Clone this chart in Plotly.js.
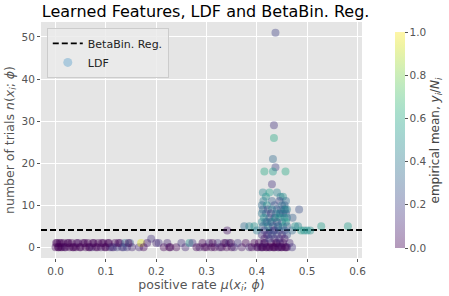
<!DOCTYPE html>
<html><head><meta charset="utf-8">
<script src="https://cdn.plot.ly/plotly-3.0.1.min.js"></script>
<style>html,body{margin:0;padding:0;background:#fff;}#chart{width:449px;height:296px;}</style>
</head><body><div id="chart"></div>
<script>
// positive rate mu(x_i; phi)
const rateX = [
 0.000,0.003,0.006,0.008,0.010,0.013,0.016,0.020,0.024,0.028,0.032,0.036,0.040,0.045,0.050,0.055,0.060,0.064,0.068,0.072,0.076,0.080,0.085,0.090,0.095,0.100,0.104,0.108,0.112,0.118,0.122,0.128,0.132,0.138,0.142,0.148,0.152,
 0.001,0.005,0.011,0.018,0.026,0.034,0.042,0.048,0.058,0.066,0.074,0.083,0.092,0.098,0.106,0.115,0.125,0.135,0.145,
 0.166,0.170,0.175,0.182,0.190,0.200,
 0.205,0.215,0.222,0.228,0.240,0.250,0.258,0.266,0.272,0.280,0.286,0.292,0.300,0.305,0.310,0.316,0.322,0.330,0.335,0.340,0.345,0.350,0.341,
 0.226,0.296,0.312,0.326,0.338,0.348,
 0.355,0.362,0.370,0.378,0.385,0.390,0.395,0.400,0.404,0.408,0.412,0.416,0.420,0.424,0.428,0.432,0.436,0.440,0.444,0.448,0.452,0.456,0.460,0.465,0.470,
 0.402,0.410,0.418,0.426,0.434,0.442,0.450,0.458,0.414,0.438,0.446,
 0.412,0.418,0.425,0.440,0.447,0.452,0.458,0.413,0.430,0.445,
 0.410,0.420,0.435,0.450,0.455,
 0.412,0.422,0.430,0.440,0.448,0.455,0.460,
 0.410,0.418,0.428,0.438,0.445,0.452,0.458,
 0.414,0.425,0.435,0.445,0.455,0.460,
 0.410,0.420,0.430,0.440,0.450,0.458,
 0.412,0.422,0.432,0.442,0.452,0.460,
 0.415,0.425,0.435,0.445,0.455,
 0.410,0.420,0.430,0.440,0.450,0.460,
 0.415,0.425,0.435,0.445,0.455,
 0.417,0.427,0.437,0.447,0.457,0.423,0.433,0.443,
 0.375,0.385,0.395,0.400,0.470,0.476,0.482,0.488,0.494,0.500,0.506,0.471,
 0.437,0.434,0.434,0.432,0.437,0.415,0.432,0.457,0.430,0.484,0.528,0.581
];
// number of trials n(x_i; phi)
const trialsN = [
 0,1,0,1,0,0,1,0,1,0,1,0,0,1,0,1,0,1,0,0,1,0,1,0,1,0,1,0,0,1,0,1,0,1,0,1,0,
 1,0,1,0,1,0,1,0,1,0,1,0,1,0,1,0,1,0,1,
 0,1,0,1,2,1,
 1,0,1,0,0,1,0,1,1,0,0,1,0,1,0,0,1,0,1,0,1,0,4,
 0,0,1,0,1,1,
 0,1,0,1,0,0,1,0,1,0,0,1,0,0,1,0,0,1,0,0,1,0,0,1,0,
 0,0,0,0,0,0,0,0,1,1,1,
 13,12,13,13,12,12,11,11,11,11,
 10,10,10,10,10,
 9,9,9,9,9,9,9,
 8,8,8,8,8,8,8,
 7,7,7,7,7,7,
 6,6,6,6,6,6,
 5,5,5,5,5,5,
 4,4,4,4,4,
 3,3,3,3,3,3,
 2,2,2,2,2,
 6,6,7,8,9,3,4,5,
 5,5,5,4,4,5,5,4,4,4,4,7,
 51,29,26,21,19,18,18,18,15,9,5,5
];
// empirical mean y_i / N_i
const empMean = [
 0,0,0,0,0,0,0,0.05,0,0,0,0,0,0.05,0,0,0,0,0,0.1,0,0,0,0.05,0,0,0,0.1,0.15,0,0.2,0.05,0.1,0.35,0.15,0.3,0.1,
 0,0,0,0,0,0,0,0,0,0,0,0,0,0,0,0.1,0,0.2,0,
 0.1,0.95,0,0.05,0.15,0.1,
 0.15,0,0.1,0,0,0.15,0.1,0.5,0.15,0,0.05,0,0,0.1,0,0,0.15,0,0.05,0,0.2,0,0.05,
 0,0,0,0.05,0,0,
 0.1,0.15,0.05,0,0.1,0,0,0.05,0,0.1,0,0,0,0.05,0,0,0,0,0.1,0,0,0,0.05,0.1,0.15,
 0,0,0,0,0,0,0,0,0.05,0,0.05,
 0.45,0.5,0.55,0.45,0.4,0.5,0.35,0.4,0.3,0.2,
 0.35,0.5,0.25,0.4,0.3,
 0.3,0.2,0.45,0.3,0.25,0.35,0.4,
 0.4,0.3,0.15,0.35,0.45,0.3,0.25,
 0.5,0.3,0.2,0.55,0.5,0.45,
 0.45,0.25,0.5,0.15,0.35,0.55,
 0.3,0.45,0.2,0.4,0.5,0.3,
 0.2,0.35,0.1,0.3,0.25,
 0.15,0.1,0.3,0.2,0.1,0.25,
 0.05,0.2,0.1,0.15,0.05,
 0.4,0.3,0.5,0.35,0.45,0.15,0.2,0.3,
 0.35,0.45,0.5,0.4,0.35,0.5,0.45,0.55,0.5,0.5,0.5,0.3,
 0.2,0.15,0.6,0.35,0.2,0.6,0.55,0.6,0.15,0.25,0.55,0.55
];
const betaBinLevel = 4.1;
const xRange = [-0.029, 0.609];
const yRange = [-2.55, 53.55];
const colorbarTicks = [0, 0.2, 0.4, 0.6, 0.8, 1.0];
const colorbarTickText = ['0.0','0.2','0.4','0.6','0.8','1.0'];

const viridisHex = ['#440154','#48186a','#472d7b','#424086','#3b528b','#33638d','#2c728e','#26828e','#21918c','#1fa088','#28ae80','#3fbc73','#5ec962','#84d44b','#addc30','#d8e219','#fde725'];
const alpha = 0.4;
const colorscale = viridisHex.map((h,i)=>{
  const r=parseInt(h.slice(1,3),16), g=parseInt(h.slice(3,5),16), b=parseInt(h.slice(5,7),16);
  return [i/(viridisHex.length-1), `rgba(${r},${g},${b},${alpha})`];
});

const font = 'DejaVu Sans, sans-serif';
const traces = [
 {type:'scatter', mode:'lines', x:xRange, y:[betaBinLevel, betaBinLevel], name:'BetaBin. Reg.',
  line:{color:'#000', width:1.8, dash:'6px,3px'}, hoverinfo:'skip'},
 {type:'scatter', mode:'markers', x:[null], y:[null], name:'LDF',
  marker:{size:9, color:'rgba(120,175,210,0.55)'}},
 {type:'scatter', mode:'markers', x:rateX, y:trialsN, showlegend:false,
  marker:{size:8, color:empMean, cmin:0, cmax:1, colorscale:colorscale, line:{width:0},
   colorbar:{x:1.0706, xanchor:'left', xref:'paper', y:0.5, yanchor:'middle', len:1, lenmode:'fraction',
     thickness:10, outlinewidth:0, ticks:'outside', ticklen:3, tickcolor:'#555', tickwidth:1,
     tickvals:colorbarTicks, ticktext:colorbarTickText,
     tickfont:{family:font, size:10.5, color:'#555'}}}}
];
const layout = {
 width:449, height:296,
 margin:{l:41, r:82, t:22, b:38, pad:0},
 paper_bgcolor:'#fff', plot_bgcolor:'#E5E5E5',
 font:{family:font, color:'#555'},
 title:{text:'Learned Features, LDF and BetaBin. Reg.', x:0.458, xanchor:'center', y:0.962, yanchor:'middle', xref:'container', yref:'container',
   font:{family:font, size:16, color:'#000'}},
 xaxis:{range:xRange, tickvals:[0,0.1,0.2,0.3,0.4,0.5,0.6], ticktext:['0.0','0.1','0.2','0.3','0.4','0.5','0.6'],
   showgrid:true, gridcolor:'#fff', gridwidth:1, zeroline:false, showline:false,
   ticks:'outside', ticklen:3, tickcolor:'#555', tickfont:{family:font, size:10.5, color:'#555'},
   title:{text:'positive rate <i>μ</i>(<i>x<sub>i</sub></i>; <i>ϕ</i>)', font:{family:font, size:12.5, color:'#555'}, standoff:3}},
 yaxis:{range:yRange, tickvals:[0,10,20,30,40,50],
   showgrid:true, gridcolor:'#fff', gridwidth:1, zeroline:false, showline:false,
   ticks:'outside', ticklen:3, tickcolor:'#555', tickfont:{family:font, size:10.5, color:'#555'},
   title:{text:'number of trials <i>n</i>(<i>x<sub>i</sub></i>; <i>ϕ</i>)', font:{family:font, size:12.5, color:'#555'}, standoff:4}},
 legend:{x:0.018, y:0.975, xanchor:'left', yanchor:'top', bgcolor:'rgba(235,235,235,0.85)', bordercolor:'#ccc', borderwidth:1,
   font:{family:font, size:11, color:'#222'}, itemwidth:30, tracegroupgap:0},
 annotations:[{text:'empirical mean, <i>y<sub>i</sub></i>/<i>N<sub>i</sub></i>', xref:'paper', yref:'paper', x:1.232, y:0.5,
   xanchor:'center', yanchor:'middle', textangle:-90, showarrow:false, font:{family:font, size:12, color:'#444'}}],
 showlegend:true
};
Plotly.newPlot('chart', traces, layout, {staticPlot:true, displayModeBar:false});
</script></body></html>
